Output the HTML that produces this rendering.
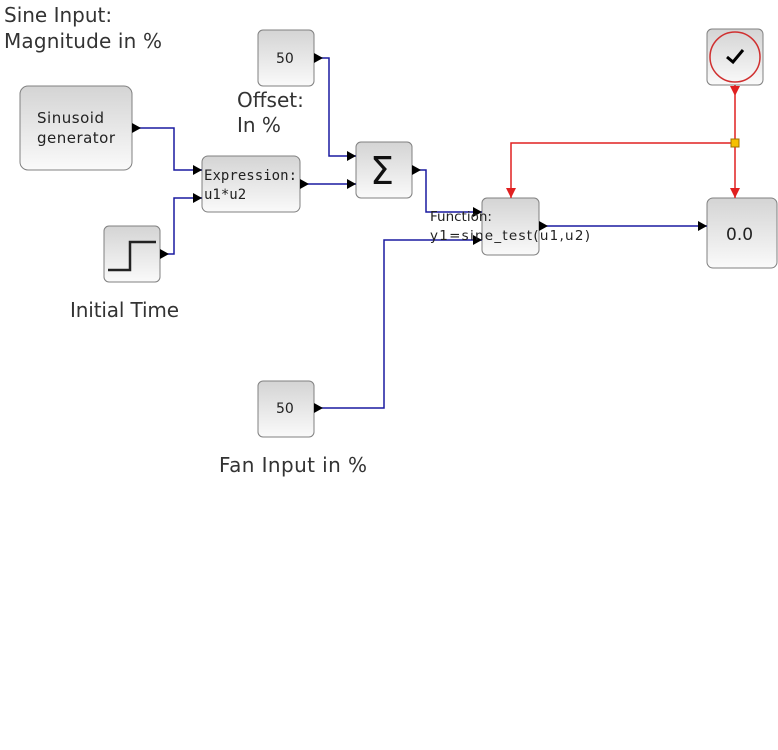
<!DOCTYPE html>
<html><head><style>body{margin:0;background:#fff}</style></head><body>
<svg width="778" height="745" xmlns="http://www.w3.org/2000/svg" font-family="DejaVu Sans, sans-serif">
<defs>
<linearGradient id="g" x1="0" y1="0" x2="0" y2="1"><stop offset="0" stop-color="#d4d4d4"/><stop offset="1" stop-color="#fafafa"/></linearGradient>
</defs>
<g fill="url(#g)" stroke="#808080" stroke-width="1">
<rect x="20" y="86" width="112" height="84" rx="8"/>
<rect x="258" y="30" width="56" height="56" rx="5"/>
<rect x="202" y="156" width="98" height="56" rx="6"/>
<rect x="356" y="142" width="56" height="56" rx="5"/>
<rect x="104" y="226" width="56" height="56" rx="5"/>
<rect x="707" y="29" width="56" height="56" rx="5"/>
<rect x="482" y="198" width="57" height="57" rx="5"/>
<rect x="707" y="198" width="70" height="70" rx="6"/>
<rect x="258" y="381" width="56" height="56" rx="5"/>
</g>
<circle cx="735" cy="57" r="25" fill="none" stroke="#d03030" stroke-width="1.5"/>
<path d="M727 57 L733 62 L743 50" fill="none" stroke="#000" stroke-width="3"/>
<path d="M108 270 H130 V242 H156" fill="none" stroke="#222" stroke-width="2.5"/>
<g fill="none" stroke="#1a1aa0" stroke-width="1.5">
<path d="M132 128 H174 V170 H202"/>
<path d="M160 254 H174 V198 H202"/>
<path d="M314 58 H329 V156 H356"/>
<path d="M300 184 H356"/>
<path d="M412 170 H426 V212 H482"/>
<path d="M314 408 H384 V240 H482"/>
<path d="M539 226 H707"/>
</g>
<g fill="none" stroke="#e02020" stroke-width="1.5">
<path d="M735 85 V198"/>
<path d="M735 143 H511 V198"/>
</g>
<rect x="731" y="139" width="8" height="8" fill="#f5c000" stroke="#a07000"/>
<g fill="#e02020">
<path d="M730 86 L740 86 L735 96Z"/>
<path d="M730 188 L740 188 L735 198Z"/>
<path d="M506 188 L516 188 L511 198Z"/>
</g>
<g fill="#000">
<path d="M132 123 L141 128 L132 133Z"/>
<path d="M160 249 L169 254 L160 259Z"/>
<path d="M314 53 L323 58 L314 63Z"/>
<path d="M300 179 L309 184 L300 189Z"/>
<path d="M412 165 L421 170 L412 175Z"/>
<path d="M314 403 L323 408 L314 413Z"/>
<path d="M539 221 L548 226 L539 231Z"/>
<path d="M193 165 L202 170 L193 175Z"/>
<path d="M193 193 L202 198 L193 203Z"/>
<path d="M347 151 L356 156 L347 161Z"/>
<path d="M347 179 L356 184 L347 189Z"/>
<path d="M473 207 L482 212 L473 217Z"/>
<path d="M473 235 L482 240 L473 245Z"/>
<path d="M698 221 L707 226 L698 231Z"/>
</g>
<g fill="#222" font-size="15">
<text x="37" y="123" textLength="67">Sinusoid</text>
<text x="37" y="143" textLength="78">generator</text>
<text x="276" y="63" font-size="14">50</text>
<text x="276" y="413" font-size="14">50</text>
<text x="204" y="180" font-size="14" font-family="DejaVu Sans Mono, monospace" textLength="93">Expression:</text>
<text x="204" y="199" font-size="14" font-family="DejaVu Sans Mono, monospace">u1*u2</text>
<text x="430" y="221" font-size="13.5">Function:</text>
<text x="430" y="240" font-size="13.5" textLength="160">y1=sine_test(u1,u2)</text>
<text x="726" y="240" font-size="17">0.0</text>
</g>
<text x="370" y="184" font-size="38" fill="#111">Σ</text>
<g fill="#333" font-size="20">
<text x="4" y="22">Sine Input:</text>
<text x="4" y="48" textLength="158">Magnitude in %</text>
<text x="237" y="107">Offset:</text>
<text x="237" y="132">In %</text>
<text x="70" y="317" textLength="109">Initial Time</text>
<text x="219" y="472" textLength="148">Fan Input in %</text>
</g>
</svg>
</body></html>
